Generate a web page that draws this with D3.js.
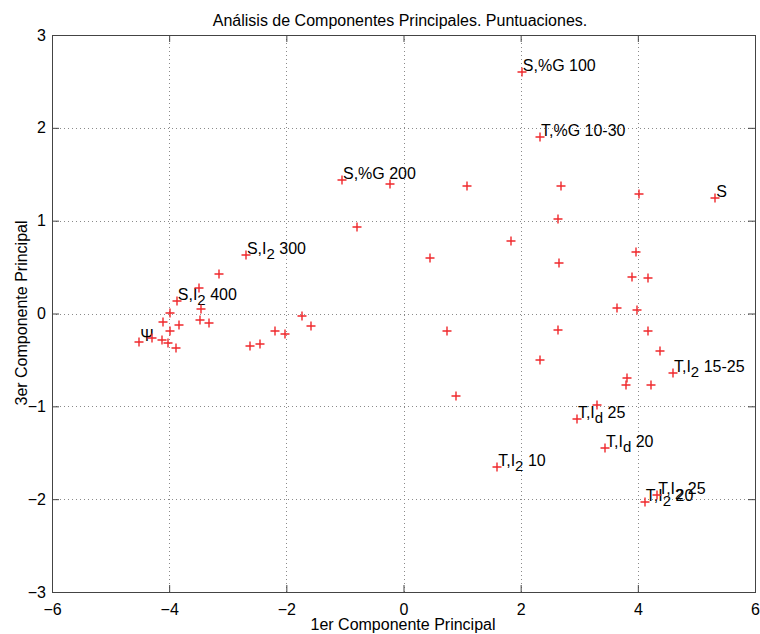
<!DOCTYPE html>
<html><head><meta charset="utf-8">
<script src="https://cdn.jsdelivr.net/npm/d3@7"></script>
<style>body{margin:0;background:#fff}svg{display:block;font-family:"Liberation Sans",Arial,sans-serif}</style>
</head><body><svg id="c" width="760" height="634"></svg>
<script>
const pc1 = [2.02,2.33,-1.05,-0.23,1.08,2.69,4.02,5.32,-0.79,2.64,1.84,0.45,2.65,-2.69,-3.15,-3.49,-3.87,-3.99,-3.46,-4.10,-3.47,-3.32,-3.83,-3.99,-4.51,-4.29,-4.12,-4.02,-3.88,-2.62,-2.45,-2.19,-2.02,-1.73,-1.58,0.74,0.90,2.33,2.64,3.97,3.90,4.17,3.64,3.99,4.17,4.38,4.60,3.81,3.79,4.22,3.30,2.96,3.44,1.60,4.12,4.33];
const pc3 = [2.60,1.90,1.44,1.40,1.37,1.37,1.29,1.24,0.93,1.02,0.78,0.60,0.54,0.63,0.43,0.27,0.13,0.01,0.05,-0.09,-0.07,-0.10,-0.12,-0.19,-0.31,-0.26,-0.29,-0.32,-0.37,-0.35,-0.33,-0.19,-0.22,-0.03,-0.13,-0.19,-0.89,-0.50,-0.18,0.66,0.39,0.38,0.06,0.04,-0.19,-0.40,-0.64,-0.70,-0.77,-0.77,-0.99,-1.14,-1.45,-1.65,-2.03,-1.96];
const labelIndex = [0,1,2,7,13,16,24,46,51,52,53,54,55];
const labelText = ["S,%G 100","T,%G 10-30","S,%G 200","S","S,I_2 300","S,I_2 400","Ψ","T,I_2 15-25","T,I_d 25","T,I_d 20","T,I_2 10","T,I_2 20","T,I_2 25"];
const xTicks = [-6,-4,-2,0,2,4,6];
const yTicks = [-3,-2,-1,0,1,2,3];
const title = "Análisis de Componentes Principales. Puntuaciones.";
const xTitle = "1er Componente Principal";
const yTitle = "3er Componente Principal";

const L=52,R=755,T=35,B=592;
const svg=d3.select("#c");
const x=d3.scaleLinear().domain([-6,6]).range([L,R]);
const y=d3.scaleLinear().domain([-3,3]).range([B,T]);

// grid
const g=svg.append("g");
g.selectAll("line.gx").data(xTicks.slice(1,-1)).join("line").attr("class","gx")
 .attr("x1",d=>Math.round(x(d))+0.5).attr("x2",d=>Math.round(x(d))+0.5).attr("y1",T).attr("y2",B)
 .attr("stroke","#8a8a8a").attr("stroke-dasharray","1,3");
g.selectAll("line.gy").data(yTicks.slice(1,-1)).join("line").attr("class","gy")
 .attr("y1",d=>Math.round(y(d))+0.5).attr("y2",d=>Math.round(y(d))+0.5).attr("x1",L).attr("x2",R)
 .attr("stroke","#8a8a8a").attr("stroke-dasharray","1,3");

// axes (inward ticks, mirrored)
const axB=d3.axisBottom(x).tickValues(xTicks).tickSize(-7).tickPadding(12).tickFormat(d3.format("d"));
const axT=d3.axisTop(x).tickValues(xTicks).tickSize(-7).tickFormat("");
const axL=d3.axisLeft(y).tickValues(yTicks).tickSize(-7).tickPadding(6).tickFormat(d3.format("d"));
const axR=d3.axisRight(y).tickValues(yTicks).tickSize(-7).tickFormat("");
function style(sel){sel.select(".domain").remove();sel.selectAll("line").attr("stroke","#444");sel.selectAll("text").attr("font-size",16).attr("fill","#000").attr("font-family","Liberation Sans, Arial, sans-serif");}
svg.append("g").attr("transform",`translate(0,${B})`).call(axB).call(style);
svg.append("g").attr("transform",`translate(0,${T})`).call(axT).call(style);
svg.append("g").attr("transform",`translate(${L},0)`).call(axL).call(style);
svg.append("g").attr("transform",`translate(${R},0)`).call(axR).call(style);
svg.append("rect").attr("x",L+0.5).attr("y",T+0.5).attr("width",R-L).attr("height",B-T)
 .attr("fill","none").attr("stroke","#444");

// labels
const lab=svg.append("g").attr("font-size",16).attr("fill","#000");
labelIndex.forEach((idx,k)=>{
  const t=lab.append("text").attr("x",x(pc1[idx])+1).attr("y",y(pc3[idx])-1);
  const parts=labelText[k].split(/(_.)/).filter(p=>p);
  let pend=0;
  parts.forEach(p=>{
    if(p[0]==="_"){
      t.append("tspan").attr("dy",5+pend).attr("font-size",15).text(p[1]);
      pend=-5;
    } else { const ts=t.append("tspan").text(p); if(pend){ts.attr("dy",pend);pend=0;} }
  });
});

// points (drawn on top)
const pts=pc1.map((v,i)=>({x:v,y:pc3[i]}));
const s=4.5;
svg.append("g").selectAll("path").data(pts).join("path")
 .attr("fill","none").attr("stroke","#f0282c").attr("stroke-width",1.4)
 .attr("d",d=>{const px=Math.round(x(d.x)),py=Math.round(y(d.y));return `M${px-s},${py}H${px+s}M${px},${py-s}V${py+s}`;});

// titles
svg.append("text").attr("x",400).attr("y",26).attr("text-anchor","middle").attr("font-size",16).text(title);
svg.append("text").attr("x",403).attr("y",630).attr("text-anchor","middle").attr("font-size",16).text(xTitle);
svg.append("text").attr("transform","translate(27,313) rotate(-90)").attr("text-anchor","middle").attr("font-size",16).text(yTitle);
</script></body></html>
